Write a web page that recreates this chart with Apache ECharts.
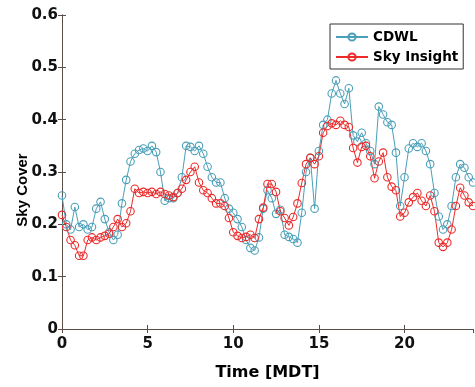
<!DOCTYPE html>
<html>
<head>
<meta charset="utf-8">
<script src="https://cdn.jsdelivr.net/npm/echarts@6/dist/echarts.min.js"></script>
<style>
  html, body {margin: 0; padding: 0; background: #fff;}
  #chart {width: 475px; height: 387px;}
</style>
</head>
<body>
<div id="chart"></div>
<script>
// time of day in hours (15 min samples)
const hours = [
  0, 0.25, 0.5, 0.75, 1, 1.25, 1.5, 1.75, 2, 2.25, 2.5, 2.75,
  3, 3.25, 3.5, 3.75, 4, 4.25, 4.5, 4.75, 5, 5.25, 5.5, 5.75,
  6, 6.25, 6.5, 6.75, 7, 7.25, 7.5, 7.75, 8, 8.25, 8.5, 8.75,
  9, 9.25, 9.5, 9.75, 10, 10.25, 10.5, 10.75, 11, 11.25, 11.5, 11.75,
  12, 12.25, 12.5, 12.75, 13, 13.25, 13.5, 13.75, 14, 14.25, 14.5, 14.75,
  15, 15.25, 15.5, 15.75, 16, 16.25, 16.5, 16.75, 17, 17.25, 17.5, 17.75,
  18, 18.25, 18.5, 18.75, 19, 19.25, 19.5, 19.75, 20, 20.25, 20.5, 20.75,
  21, 21.25, 21.5, 21.75, 22, 22.25, 22.5, 22.75, 23, 23.25, 23.5, 23.75, 24
];

const cdwl = [
  0.255, 0.20, 0.19, 0.233, 0.195, 0.20, 0.19, 0.195, 0.23, 0.243, 0.21, 0.185,
  0.17, 0.18, 0.24, 0.285, 0.32, 0.335, 0.342, 0.345, 0.34, 0.35, 0.338, 0.30,
  0.245, 0.25, 0.25, 0.26, 0.29, 0.35, 0.348, 0.34, 0.35, 0.335, 0.31, 0.29,
  0.28, 0.28, 0.25, 0.23, 0.222, 0.21, 0.195, 0.17, 0.155, 0.15, 0.175, 0.23,
  0.265, 0.25, 0.22, 0.228, 0.18, 0.176, 0.172, 0.165, 0.222, 0.30, 0.327, 0.23,
  0.34, 0.39, 0.40, 0.45, 0.475, 0.45, 0.43, 0.46, 0.37, 0.358, 0.375, 0.355,
  0.34, 0.315, 0.425, 0.41, 0.395, 0.39, 0.337, 0.235, 0.29, 0.345, 0.355, 0.348,
  0.355, 0.34, 0.315, 0.26, 0.215, 0.19, 0.20, 0.235, 0.29, 0.315, 0.308, 0.29, 0.28
];

const skyInsight = [
  0.218, 0.195, 0.17, 0.16, 0.14, 0.14, 0.17, 0.175, 0.17, 0.175, 0.178, 0.182,
  0.195, 0.21, 0.195, 0.202, 0.225, 0.268, 0.26, 0.262, 0.26, 0.262, 0.258, 0.262,
  0.258, 0.255, 0.252, 0.26, 0.268, 0.285, 0.30, 0.31, 0.28, 0.265, 0.26, 0.25,
  0.24, 0.24, 0.235, 0.212, 0.185, 0.178, 0.174, 0.176, 0.18, 0.174, 0.21, 0.232,
  0.277, 0.277, 0.262, 0.225, 0.212, 0.198, 0.214, 0.24, 0.279, 0.315, 0.327, 0.315,
  0.33, 0.375, 0.388, 0.393, 0.39, 0.398, 0.39, 0.386, 0.346, 0.318, 0.348, 0.35,
  0.33, 0.288, 0.32, 0.337, 0.29, 0.272, 0.265, 0.215, 0.222, 0.242, 0.252, 0.26,
  0.245, 0.235, 0.255, 0.225, 0.165, 0.157, 0.165, 0.19, 0.235, 0.27, 0.255, 0.242, 0.235
];

const seriesNames = ['CDWL', 'Sky Insight'];

const frameColor = '#5b4e48';
const font = 'DejaVu Sans';

const myChart = echarts.init(document.getElementById('chart'));

const pairs = (ys) => hours.map((h, i) => [h, ys[i]]);

const frameAxis = {
  axisLine: {show: true, lineStyle: {color: frameColor, width: 1}},
  axisTick: {show: true, inside: true, length: 4, lineStyle: {color: frameColor}},
  splitLine: {show: false},
};

const lineSeries = (name, ys, color) => ({
  name: name,
  type: 'line',
  data: pairs(ys),
  symbol: 'circle',
  symbolSize: 7.5,
  color: color,
  lineStyle: {width: 1, color: color},
  itemStyle: {color: 'rgba(255,255,255,0)', borderColor: color, borderWidth: 1.1},
});

myChart.setOption({
  animation: false,
  backgroundColor: '#fff',
  grid: {left: 62, right: 2, top: 15, bottom: 58, outerBoundsMode: 'none', containLabel: false},
  legend: {
    data: seriesNames,
    orient: 'vertical',
    left: 330,
    top: 24,
    padding: [6, 5, 5, 5],
    itemGap: 6,
    itemWidth: 32,
    itemHeight: 9,
    borderColor: '#333',
    borderWidth: 1,
    borderRadius: 0,
    backgroundColor: '#fff',
    textStyle: {fontFamily: font, fontWeight: 'bold', fontSize: 13.5, color: '#000'},
  },
  xAxis: [
    Object.assign({}, frameAxis, {
      type: 'value',
      min: 0,
      max: 24,
      interval: 5,
      name: 'Time [MDT]',
      nameLocation: 'middle',
      nameGap: 36,
      nameMoveOverlap: false,
      nameTextStyle: {fontFamily: font, fontWeight: 'bold', fontSize: 16, color: '#000'},
      axisLabel: {
        fontFamily: font, fontWeight: 'bold', fontSize: 15, color: '#111',
        margin: 8, showMaxLabel: false,
      },
    }),
    Object.assign({}, frameAxis, {
      type: 'value', position: 'top', min: 0, max: 24, interval: 5,
      axisLabel: {show: false},
    }),
  ],
  yAxis: [
    Object.assign({}, frameAxis, {
      type: 'value',
      min: 0,
      max: 0.6,
      interval: 0.1,
      name: 'Sky Cover',
      nameLocation: 'middle',
      nameGap: 32,
      nameMoveOverlap: false,
      nameTextStyle: {
        fontFamily: 'Liberation Sans', fontWeight: 'bold', fontSize: 15, color: '#000',
        padding: [0, 36, 0, 0],
      },
      axisLabel: {fontFamily: font, fontWeight: 'bold', fontSize: 15, color: '#111', margin: 4},
    }),
    Object.assign({}, frameAxis, {
      type: 'value', position: 'right', min: 0, max: 0.6, interval: 0.1,
      axisLabel: {show: false},
    }),
  ],
  series: [
    lineSeries(seriesNames[0], cdwl, '#4a9fb8'),
    lineSeries(seriesNames[1], skyInsight, '#ec2a2a'),
  ],
});
</script>
</body>
</html>
